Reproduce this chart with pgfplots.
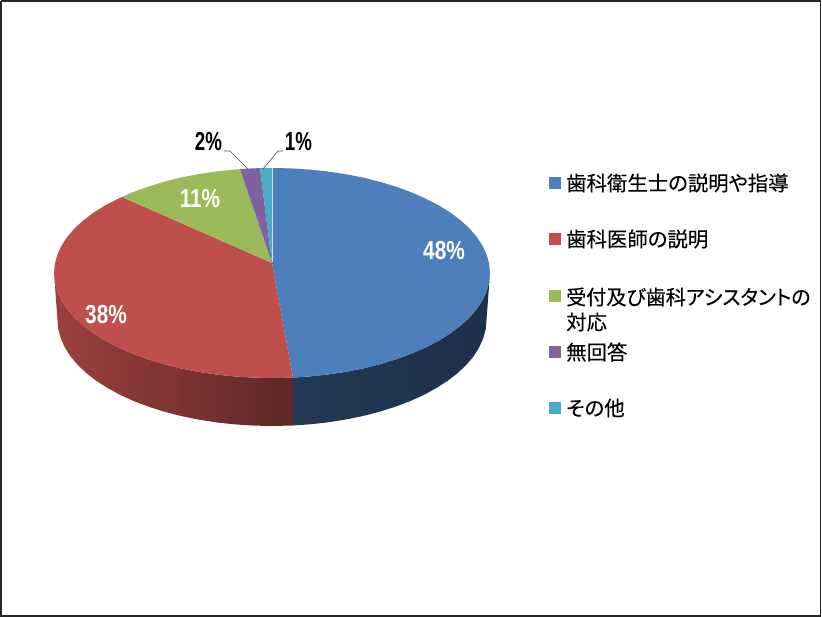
\documentclass[border=0pt]{standalone}
\usepackage{graphicx}
\usepackage{fontspec}
\usepackage{pgfplots}
\pgfplotsset{compat=1.18}
\setmainfont{Liberation Sans}
\newfontfamily\cjk[RawFeature=+palt,FakeBold=0.25]{Noto Sans CJK JP}
\definecolor{cblue}{HTML}{4C7FBB}
\definecolor{cred}{HTML}{BE4F4C}
\definecolor{cgreen}{HTML}{9ABA59}
\definecolor{cpurple}{HTML}{7F63A1}
\definecolor{ccyan}{HTML}{4AABC5}
\newcommand{\pct}[1]{\scalebox{0.8}[1]{\fontsize{26}{26}\selectfont\bfseries #1}}
\newcommand{\pctb}[1]{\scalebox{0.72}[1]{\fontsize{26}{26}\selectfont\bfseries #1}}
\newcommand{\leg}[1]{\fontsize{20.4}{20.4}\selectfont\cjk #1}
\begin{document}
\begin{tikzpicture}
\begin{axis}[
  scale only axis,
  width=822pt,
  height=617pt,
  xmin=0, xmax=822,
  ymin=0, ymax=617,
  y dir=reverse,
  hide axis,
]
% page background, keeps the size of the picture
\addplot[draw=none, fill=white] coordinates {(0,0) (822,0) (822,617) (0,617)} \closedcycle;

% side, blue part
\addplot[draw=none, mark=none, left color=cblue!45!black, middle color=cblue!35!black, right color=cblue!38!black] coordinates {
(293,377.6) (309.9,376.4) (328.4,374.4) (346.6,371.7) (364.1,368.2) (381,363.9) (397,359) (412.1,353.4)
(426.1,347.2) (439,340.5) (450.6,333.2) (460.8,325.5) (469.6,317.4) (476.9,308.9) (482.6,300.2) (486.7,291.2)
(489.2,282.2) (490,273)
(486.5,320) (485.7,329.2) (483.2,338.4) (479.2,347.4) (473.6,356.3) (466.4,364.8) (457.8,373) (447.7,380.8)
(436.3,388.1) (423.7,395) (409.9,401.2) (395,406.8) (379.3,411.8) (362.6,416.1) (345.4,419.6) (327.5,422.4)
(309.2,424.4) (293,425.5)
} -- cycle;

% side, red part
\addplot[draw=none, mark=none, left color=cred!82!black, middle color=cred!68!black, right color=cred!50!black] coordinates {
(54,273) (54.8,282.2) (57.3,291.2) (61.4,300.2) (67.1,308.9) (74.4,317.4) (83.2,325.5) (93.4,333.2)
(105,340.5) (117.9,347.2) (131.9,353.4) (147,359) (163,363.9) (179.9,368.2) (197.4,371.7) (215.6,374.4)
(234.1,376.4) (253,377.6) (272,378) (293,377.6)
(293,425.5) (272,426) (253.3,425.6) (234.8,424.4) (216.5,422.4) (198.6,419.6) (181.4,416.1) (164.7,411.8)
(149,406.8) (134.1,401.2) (120.3,395) (107.7,388.1) (96.3,380.8) (86.2,373) (77.6,364.8) (70.4,356.3)
(64.8,347.4) (60.8,338.4) (58.3,329.2) (57.5,320)
} -- cycle;

% top, 48%
\addplot[draw=none, fill=cblue, mark=none] coordinates {
(272,263) (272,168) (291,168.4) (309.9,169.6) (328.4,171.6) (346.6,174.3) (364.1,177.8) (381,182.1) (397,187)
(412.1,192.6) (426.1,198.8) (439,205.5) (450.6,212.8) (460.8,220.5) (469.6,228.6) (476.9,237.1) (482.6,245.8)
(486.7,254.8) (489.2,263.8) (490,273) (489.2,282.2) (486.7,291.2) (482.6,300.2) (476.9,308.9) (469.6,317.4)
(460.8,325.5) (450.6,333.2) (439,340.5) (426.1,347.2) (412.1,353.4) (397,359) (381,363.9) (364.1,368.2)
(346.6,371.7) (328.4,374.4) (309.9,376.4) (293,377.6)
} -- cycle;

% top, 38%
\addplot[draw=none, fill=cred, mark=none] coordinates {
(272,263) (293,377.6) (272,378) (253,377.6) (234.1,376.4) (215.6,374.4) (197.4,371.7) (179.9,368.2) (163,363.9)
(147,359) (131.9,353.4) (117.9,347.2) (105,340.5) (93.4,333.2) (83.2,325.5) (74.4,317.4) (67.1,308.9)
(61.4,300.2) (57.3,291.2) (54.8,282.2) (54,273) (54.8,263.8) (57.3,254.8) (61.4,245.8) (67.1,237.1)
(74.4,228.6) (83.2,220.5) (93.4,212.8) (105,205.5) (117.9,198.8) (122,197)
} -- cycle;

% top, 11%
\addplot[draw=none, fill=cgreen, mark=none] coordinates {
(272,263) (122,197) (131.9,192.6) (147,187) (163,182.1) (179.9,177.8) (197.4,174.3) (215.6,171.6) (234.1,169.6) (240,169)
} -- cycle;

% top, 2%
\addplot[draw=none, fill=cpurple, mark=none] coordinates {
(272,263) (240,169) (253,168.4) (260,168.1)
} -- cycle;

% top, 1%
\addplot[draw=none, fill=ccyan, mark=none] coordinates {
(272,263) (260,168.1) (272,168)
} -- cycle;

% light seam beside the small slice
\addplot[line width=0.5pt, color=white!70!ccyan, mark=none] coordinates {(272,168) (272,262)};

% leader lines
\addplot[line width=0.6pt, color=black!70, mark=none] coordinates {(224,151) (230,151) (248,169)};
\addplot[line width=0.6pt, color=black!70, mark=none] coordinates {(283,151) (278,151) (263,169)};

% legend keys
\addplot[only marks, mark=square*, mark size=5.5pt, color=cblue] coordinates {(554.5,183)};
\addplot[only marks, mark=square*, mark size=5.5pt, color=cred] coordinates {(554.5,239)};
\addplot[only marks, mark=square*, mark size=5.5pt, color=cgreen] coordinates {(554.5,296)};
\addplot[only marks, mark=square*, mark size=5.5pt, color=cpurple] coordinates {(554.5,352)};
\addplot[only marks, mark=square*, mark size=5.5pt, color=ccyan] coordinates {(554.5,408)};

% frame
\addplot[line width=1.6pt, color=black!85, mark=none] coordinates {(0.8,0.8) (820.6,0.8) (820.6,616) (0.8,616) (0.8,0.8)};

\node[text=white, inner sep=0pt] at (axis cs:444,251) {\pct{48\%}};
\node[text=white, inner sep=0pt] at (axis cs:106,315) {\pct{38\%}};
\node[text=white, inner sep=0pt] at (axis cs:200,199) {\pct{11\%}};
\node[text=black, inner sep=0pt] at (axis cs:208.5,142) {\pctb{2\%}};
\node[text=black, inner sep=0pt] at (axis cs:298.5,142) {\pctb{1\%}};

\node[anchor=west, inner sep=0pt] at (axis cs:566,183) {\leg{歯科衛生士の説明や指導}};
\node[anchor=west, inner sep=0pt] at (axis cs:566,239) {\leg{歯科医師の説明}};
\node[anchor=west, inner sep=0pt] at (axis cs:566,297) {\scalebox{0.984}[1]{\leg{受付及び歯科アシスタントの}}};
\node[anchor=west, inner sep=0pt] at (axis cs:566,322) {\leg{対応}};
\node[anchor=west, inner sep=0pt] at (axis cs:566,352) {\leg{無回答}};
\node[anchor=west, inner sep=0pt] at (axis cs:566,408) {\leg{その他}};
\end{axis}
\end{tikzpicture}
\end{document}
